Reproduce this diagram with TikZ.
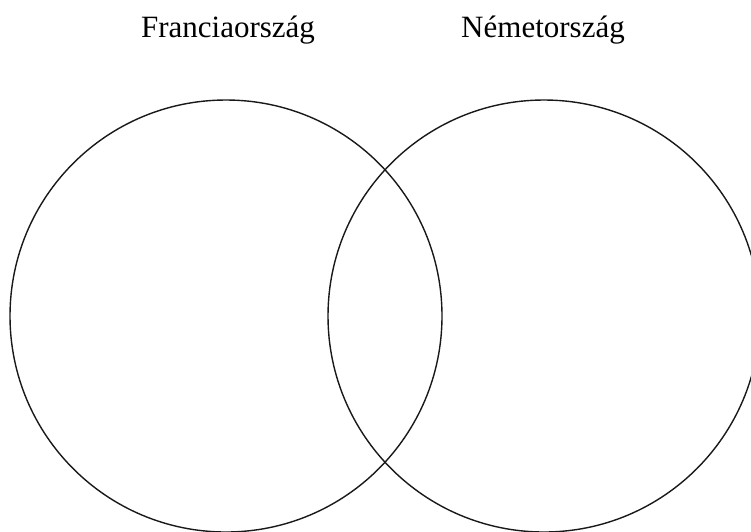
\documentclass[tikz,border=0pt]{standalone}
\usepackage{fontspec}
\setmainfont{Liberation Serif}
\begin{document}
\begin{tikzpicture}[x=1pt,y=-1pt,
  venn/.style={draw=black!90,line width=1.4pt},
  lbl/.style={font=\fontsize{31}{36}\selectfont,anchor=base,inner sep=0pt}]
\useasboundingbox (0,0) rectangle (751,531);
\clip (0,0) rectangle (751,531);
\fill[white] (0,0) rectangle (751,531);
\coordinate (cl) at (226,316);
\coordinate (cr) at (544,316);
\draw[venn] (cl) circle[radius=216];
\draw[venn] (cr) circle[radius=216];
\node[lbl] (fr) at (228,37) {Franciaország};
\node[lbl] (de) at (543,37) {Németország};
\end{tikzpicture}
\end{document}
